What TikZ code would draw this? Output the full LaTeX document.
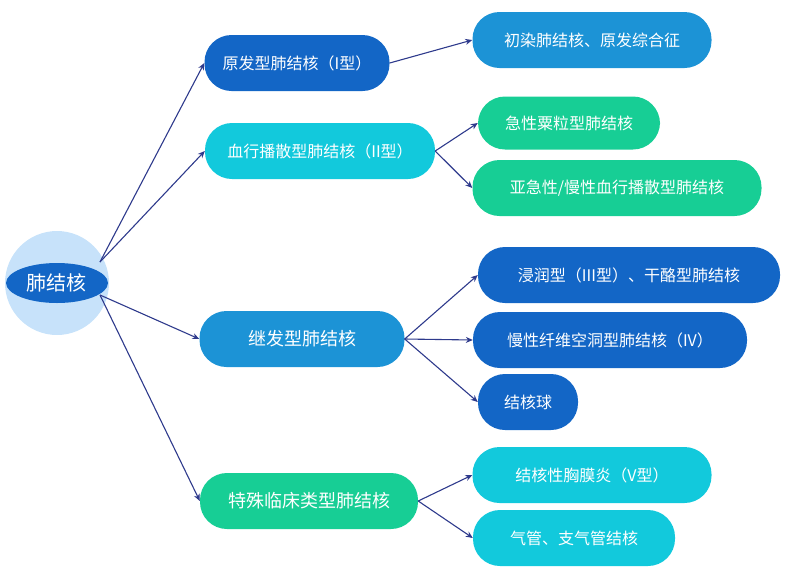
\documentclass[tikz,border=0pt]{standalone}
\usepackage{fontspec}
\setmainfont{Noto Sans CJK SC}
\usetikzlibrary{arrows.meta,shapes.geometric}
\definecolor{dkblue}{HTML}{1366C6}
\definecolor{mdblue}{HTML}{1C93D6}
\definecolor{cyanb}{HTML}{12C9DC}
\definecolor{greenb}{HTML}{17CE95}
\definecolor{navy}{HTML}{2E3A8C}
\definecolor{pale}{HTML}{C7E2FA}
\tikzset{
  pill/.style={rounded corners=27pt, text=white, font=\fontsize{16}{19}\selectfont, minimum height=56pt, inner xsep=12pt},
  link/.style={navy, line width=1.1pt, -{Stealth[length=7pt,width=6pt]}}
}
\begin{document}
\begin{tikzpicture}[x=1pt,y=-1pt]
  \useasboundingbox (0,0) rectangle (790,571);
  % root
  \fill[pale] (57,283) circle [radius=52];
  \node[ellipse, fill=dkblue, text=white, minimum width=102pt, minimum height=40pt, inner sep=0pt, font=\fontsize{20}{24}\selectfont] (root) at (57,283) {肺结核};
  \coordinate (rt) at (100,262);
  \coordinate (rb) at (100,295);
  % first level
  \node[pill, fill=dkblue, minimum width=185pt] (a) at (297,63) {原发型肺结核（I型）};
  \node[pill, fill=cyanb, minimum width=230pt] (b) at (320,151) {血行播散型肺结核（II型）};
  \node[pill, fill=mdblue, minimum width=205pt, font=\fontsize{18}{21}\selectfont] (c) at (302,339) {继发型肺结核};
  \node[pill, fill=greenb, minimum width=218pt, font=\fontsize{18}{21}\selectfont] (d) at (309,501) {特殊临床类型肺结核};
  % second level
  \node[pill, fill=mdblue, minimum width=239pt] (a1) at (592,40) {初染肺结核、原发综合征};
  \node[pill, fill=greenb, minimum width=182pt, minimum height=53pt] (b1) at (569,123) {急性粟粒型肺结核};
  \node[pill, fill=greenb, minimum width=289pt] (b2) at (617,188) {亚急性/慢性血行播散型肺结核};
  \node[pill, fill=dkblue, minimum width=302pt] (c1) at (629,275) {浸润型（III型）、干酪型肺结核};
  \node[pill, fill=dkblue, minimum width=274pt] (c2) at (610,340) {慢性纤维空洞型肺结核（IV）};
  \node[pill, fill=dkblue, minimum width=100pt] (c3) at (528,402) {结核球};
  \node[pill, fill=cyanb, minimum width=239pt] (d1) at (592,475) {结核性胸膜炎（V型）};
  \node[pill, fill=cyanb, minimum width=202pt] (d2) at (574,538) {气管、支气管结核};
  % connectors
  \draw[link] (rt) -- (a.west);
  \draw[link] (rt) -- (b.west);
  \draw[link] (rb) -- (c.west);
  \draw[link] (rb) -- (d.west);
  \draw[link] (a.east) -- (a1.west);
  \draw[link] (b.east) -- (b1.west);
  \draw[link] (b.east) -- (b2.west);
  \draw[link] (c.east) -- (c1.west);
  \draw[link] (c.east) -- (c2.west);
  \draw[link] (c.east) -- (c3.west);
  \draw[link] (d.east) -- (d1.west);
  \draw[link] (d.east) -- (d2.west);
\end{tikzpicture}
\end{document}
